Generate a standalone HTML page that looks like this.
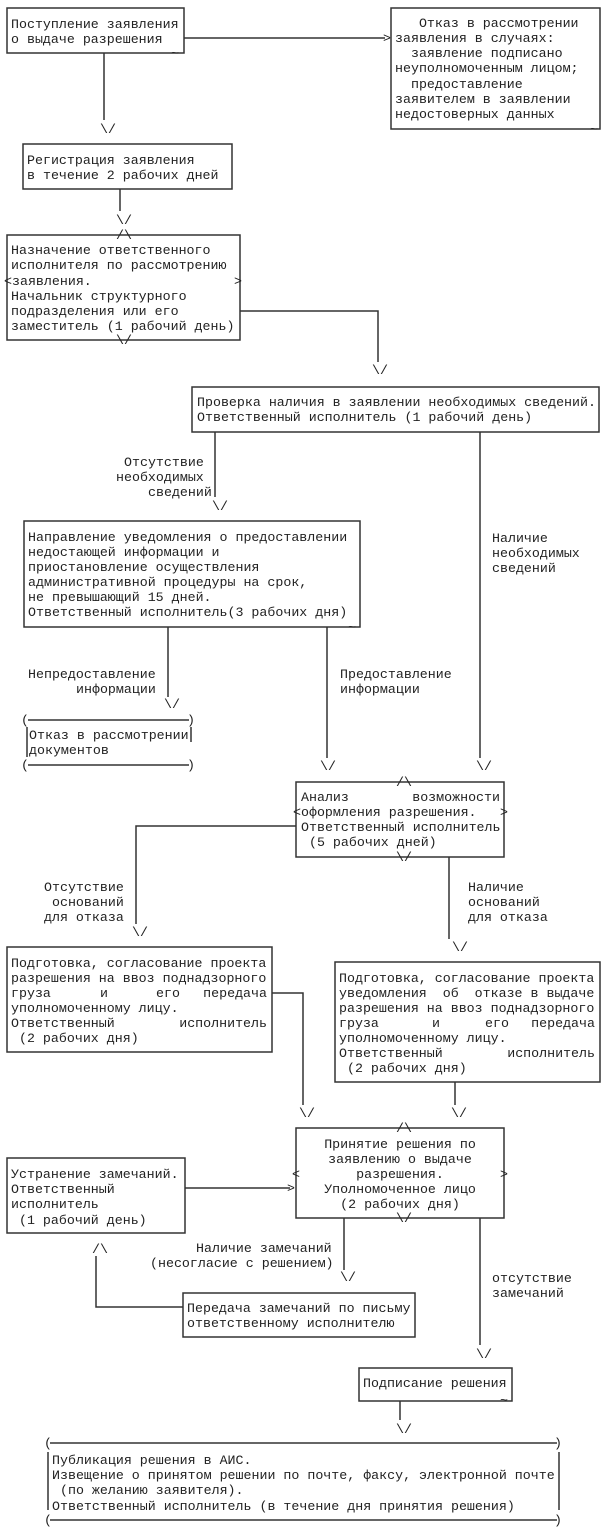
<!DOCTYPE html>
<html><head><meta charset="utf-8"><style>
html,body{margin:0;padding:0;background:#fff}
svg{display:block}
text{font-family:"Liberation Mono","Noto Sans CJK SC",monospace;font-size:13.3px;fill:#222;white-space:pre}
.b{fill:none;stroke:#333;stroke-width:1.5}
.l{stroke:#333;stroke-width:1.5;fill:none}
</style></head><body>
<svg width="608" height="1533" viewBox="0 0 608 1533" xmlns="http://www.w3.org/2000/svg" xml:space="preserve">
<rect class="b" x="7" y="8" width="177" height="45"/>
<text x="11" y="28">Поступление заявления</text>
<text x="11" y="43">о выдаче разрешения</text>
<text x="171" y="57">~</text>
<path class="l" d="M184 38 H385"/>
<text x="383" y="42">&gt;</text>
<rect class="b" x="391" y="8" width="209" height="121"/>
<text x="395" y="27">   Отказ в рассмотрении</text>
<text x="395" y="42">заявления в случаях:</text>
<text x="395" y="57">  заявление подписано</text>
<text x="395" y="72">неуполномоченным лицом;</text>
<text x="395" y="88">  предоставление</text>
<text x="395" y="103">заявителем в заявлении</text>
<text x="395" y="118">недостоверных данных</text>
<text x="590" y="133">~</text>
<path class="l" d="M104 53 V120"/>
<text x="100" y="133">\/</text>
<rect class="b" x="23" y="144" width="209" height="45"/>
<text x="27" y="164">Регистрация заявления</text>
<text x="27" y="179">в течение 2 рабочих дней</text>
<path class="l" d="M120 189 V211"/>
<text x="116" y="224">\/</text>
<rect class="b" x="7" y="235" width="233" height="105"/>
<text x="116" y="239">/\</text>
<text x="11" y="254">Назначение ответственного</text>
<text x="11" y="269">исполнителя по рассмотрению</text>
<text x="4" y="285">&lt;заявления.</text>
<text x="234" y="285">&gt;</text>
<text x="11" y="300">Начальник структурного</text>
<text x="11" y="315">подразделения или его</text>
<text x="11" y="330">заместитель (1 рабочий день)</text>
<text x="116" y="344">\/</text>
<path class="l" d="M240 311 H378 V362"/>
<text x="372" y="374">\/</text>
<rect class="b" x="192" y="387" width="407" height="45"/>
<text x="197" y="406">Проверка наличия в заявлении необходимых сведений.</text>
<text x="197" y="421">Ответственный исполнитель (1 рабочий день)</text>
<path class="l" d="M215 432 V497"/>
<text x="124" y="466">Отсутствие</text>
<text x="116" y="481">необходимых</text>
<text x="148" y="496">сведений</text>
<text x="212" y="510">\/</text>
<path class="l" d="M480 432 V758"/>
<text x="492" y="542">Наличие</text>
<text x="492" y="557">необходимых</text>
<text x="492" y="572">сведений</text>
<text x="476" y="770">\/</text>
<rect class="b" x="24" y="521" width="336" height="106"/>
<text x="28" y="541">Направление уведомления о предоставлении</text>
<text x="28" y="556">недостающей информации и</text>
<text x="28" y="571">приостановление осуществления</text>
<text x="28" y="586">административной процедуры на срок,</text>
<text x="28" y="601">не превышающий 15 дней.</text>
<text x="28" y="616">Ответственный исполнитель(3 рабочих дня)</text>
<text x="348" y="631">~</text>
<path class="l" d="M168 627 V697"/>
<text x="28" y="678">Непредоставление</text>
<text x="76" y="693">информации</text>
<text x="164" y="708">\/</text>
<path class="l" d="M327 627 V758"/>
<text x="340" y="678">Предоставление</text>
<text x="340" y="693">информации</text>
<text x="320" y="770">\/</text>
<path class="l" d="M28 720 H189 M28 765 H189 M27 727 V757 M191 727 V742"/>
<text x="21" y="724">(</text><text x="187" y="724">)</text>
<text x="21" y="769">(</text><text x="187" y="769">)</text>
<text x="29" y="739">Отказ в рассмотрении</text>
<text x="29" y="754">документов</text>
<rect class="b" x="296" y="782" width="208" height="75"/>
<text x="396" y="786">/\</text>
<text x="301" y="801">Анализ</text>
<text x="500" y="801" text-anchor="end">возможности</text>
<text x="293" y="816">&lt;оформления разрешения.</text>
<text x="500" y="816">&gt;</text>
<text x="301" y="831">Ответственный исполнитель</text>
<text x="301" y="846"> (5 рабочих дней)</text>
<text x="396" y="861">\/</text>
<path class="l" d="M296 826 H136 V924"/>
<text x="44" y="891">Отсутствие</text>
<text x="44" y="906"> оснований</text>
<text x="44" y="921">для отказа</text>
<text x="132" y="936">\/</text>
<path class="l" d="M449 857 V939"/>
<text x="468" y="891">Наличие</text>
<text x="468" y="906">оснований</text>
<text x="468" y="921">для отказа</text>
<text x="452" y="951">\/</text>
<rect class="b" x="7" y="947" width="265" height="105"/>
<text x="11" y="967">Подготовка, согласование проекта</text>
<text x="11" y="982">разрешения на ввоз поднадзорного</text>
<text x="11" y="997">груза</text><text x="100" y="997">и</text><text x="156" y="997">его</text><text x="267" y="997" text-anchor="end">передача</text>
<text x="11" y="1012">уполномоченному лицу.</text>
<text x="11" y="1027">Ответственный</text><text x="267" y="1027" text-anchor="end">исполнитель</text>
<text x="11" y="1042"> (2 рабочих дня)</text>
<path class="l" d="M272 993 H303 V1105"/>
<text x="299" y="1117">\/</text>
<rect class="b" x="335" y="962" width="265" height="120"/>
<text x="339" y="982">Подготовка, согласование проекта</text>
<text x="339" y="997">уведомления  об  отказе в выдаче</text>
<text x="339" y="1012">разрешения на ввоз поднадзорного</text>
<text x="339" y="1027">груза</text><text x="432" y="1027">и</text><text x="485" y="1027">его</text><text x="595" y="1027" text-anchor="end">передача</text>
<text x="339" y="1042">уполномоченному лицу.</text>
<text x="339" y="1057">Ответственный</text><text x="595" y="1057" text-anchor="end">исполнитель</text>
<text x="339" y="1072"> (2 рабочих дня)</text>
<path class="l" d="M455 1082 V1105"/>
<text x="451" y="1117">\/</text>
<rect class="b" x="296" y="1128" width="208" height="90"/>
<text x="396" y="1132">/\</text>
<text x="400" y="1148" text-anchor="middle">Принятие решения по</text>
<text x="400" y="1163" text-anchor="middle">заявлению о выдаче</text>
<text x="400" y="1178" text-anchor="middle">разрешения.</text>
<text x="292" y="1178">&lt;</text>
<text x="500" y="1178">&gt;</text>
<text x="400" y="1193" text-anchor="middle">Уполномоченное лицо</text>
<text x="400" y="1208" text-anchor="middle">(2 рабочих дня)</text>
<text x="396" y="1222">\/</text>
<rect class="b" x="7" y="1158" width="178" height="75"/>
<text x="11" y="1178">Устранение замечаний.</text>
<text x="11" y="1193">Ответственный</text>
<text x="11" y="1208">исполнитель</text>
<text x="11" y="1224"> (1 рабочий день)</text>
<path class="l" d="M185 1188 H290"/>
<text x="287" y="1192">&gt;</text>
<path class="l" d="M344 1218 V1270"/>
<text x="196" y="1252">Наличие замечаний</text>
<text x="150" y="1267">(несогласие с решением)</text>
<text x="340" y="1281">\/</text>
<rect class="b" x="183" y="1293" width="232" height="44"/>
<text x="187" y="1312">Передача замечаний по письму</text>
<text x="187" y="1327">ответственному исполнителю</text>
<path class="l" d="M183 1307 H96 V1256"/>
<text x="92" y="1253">/\</text>
<path class="l" d="M480 1218 V1345"/>
<text x="492" y="1282">отсутствие</text>
<text x="492" y="1297">замечаний</text>
<text x="476" y="1358">\/</text>
<rect class="b" x="359" y="1368" width="153" height="33"/>
<text x="363" y="1387">Подписание решения</text>
<text x="500" y="1404">~</text>
<path class="l" d="M400 1401 V1420"/>
<text x="396" y="1433">\/</text>
<path class="l" d="M50 1443 H557 M50 1520 H557 M48 1452 V1510 M559 1452 V1510"/>
<text x="44" y="1447">(</text><text x="554" y="1447">)</text>
<text x="44" y="1524">(</text><text x="554" y="1524">)</text>
<text x="52" y="1464">Публикация решения в АИС.</text>
<text x="52" y="1479">Извещение о принятом решении по почте, факсу, электронной почте</text>
<text x="52" y="1494"> (по желанию заявителя).</text>
<text x="52" y="1510">Ответственный исполнитель (в течение дня принятия решения)</text>
</svg>
</body></html>
